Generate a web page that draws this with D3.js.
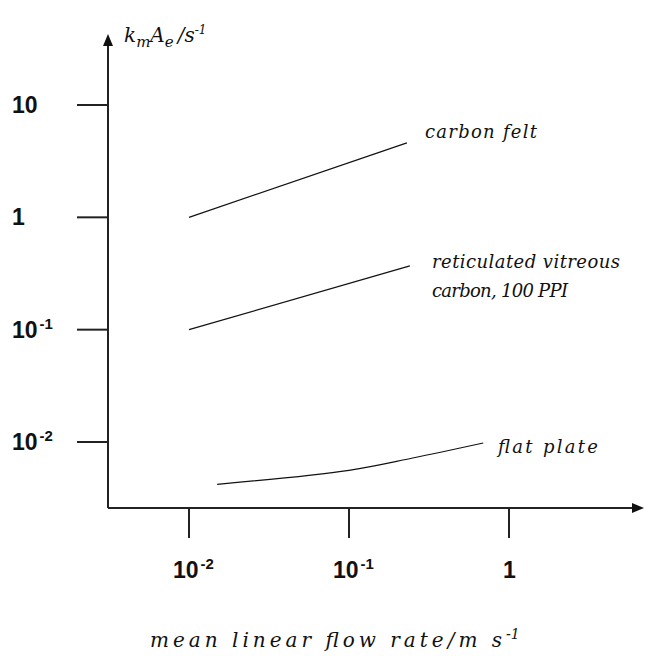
<!DOCTYPE html>
<html>
<head>
<meta charset="utf-8">
<script src="https://cdn.jsdelivr.net/npm/d3@7"></script>
<style>
  body { margin: 0; background: #fff; }
  svg { display: block; }
  .tick-label { font-family: "Liberation Sans", Arial, sans-serif; font-weight: bold; fill: #111; }
  .note { font-family: "DejaVu Serif", serif; font-style: italic; fill: #111; }
</style>
</head>
<body>
<svg id="chart" width="645" height="656"></svg>
<script>
// tick values and their labels (base + superscript)
var yTicks = [10, 1, 0.1, 0.01],
    yTickBase = ['10', '1', '10', '10'],
    yTickSup = ['', '', '-1', '-2'];
var xTicks = [0.01, 0.1, 1],
    xTickBase = ['10', '10', '1'],
    xTickSup = ['-2', '-1', ''];

// curves (flow rate in m/s, kmAe in 1/s)
var feltX = [0.01, 0.23],
    feltY = [1, 4.6];
var rvcX = [0.01, 0.24],
    rvcY = [0.1, 0.37];
var plateX = [0.015, 0.1, 0.25, 0.69],
    plateY = [0.0042, 0.0056, 0.0072, 0.0098];

var seriesNames = ['carbon felt', 'reticulated vitreous|carbon, 100 PPI', 'flat plate'];

var svg = d3.select('#chart'),
    originX = 108,
    originY = 508;

var x = d3.scaleLog().domain([0.01, 1]).range([189, 509]),
    y = d3.scaleLog().domain([0.01, 10]).range([442, 105]);

// axes with arrow heads
svg.append('line')
  .attr('x1', originX).attr('y1', originY)
  .attr('x2', originX).attr('y2', 44)
  .attr('stroke', '#222').attr('stroke-width', 2);
svg.append('path')
  .attr('d', 'M' + (originX - 5) + ',46L' + originX + ',34L' + (originX + 5) + ',46Z')
  .attr('fill', '#111');

svg.append('line')
  .attr('x1', originX).attr('y1', originY)
  .attr('x2', 634).attr('y2', originY)
  .attr('stroke', '#222').attr('stroke-width', 2);
svg.append('path')
  .attr('d', 'M632,' + (originY - 5) + 'L644,' + originY + 'L632,' + (originY + 5) + 'Z')
  .attr('fill', '#111');

// y ticks
yTicks.forEach(function(t, i) {
  svg.append('line')
    .attr('x1', 77).attr('x2', originX)
    .attr('y1', y(t)).attr('y2', y(t))
    .attr('stroke', '#222').attr('stroke-width', 2);
  var txt = svg.append('text')
    .attr('class', 'tick-label')
    .attr('x', 12)
    .attr('y', y(t) + 8)
    .style('font-size', '23px')
    .text(yTickBase[i]);
  if (yTickSup[i]) {
    txt.append('tspan')
      .attr('dx', 2).attr('dy', -9)
      .style('font-size', '15px')
      .text(yTickSup[i]);
  }
});

// x ticks
xTicks.forEach(function(t, i) {
  svg.append('line')
    .attr('x1', x(t)).attr('x2', x(t))
    .attr('y1', originY).attr('y2', 538)
    .attr('stroke', '#222').attr('stroke-width', 2);
  var txt = svg.append('text')
    .attr('class', 'tick-label')
    .attr('x', x(t) - (xTickSup[i] ? 16 : 6))
    .attr('y', 578)
    .style('font-size', '23px')
    .text(xTickBase[i]);
  if (xTickSup[i]) {
    txt.append('tspan')
      .attr('dx', 2).attr('dy', -9)
      .style('font-size', '15px')
      .text(xTickSup[i]);
  }
});

// the three curves
var line = d3.line()
  .x(function(d) { return x(d[0]); })
  .y(function(d) { return y(d[1]); })
  .curve(d3.curveCatmullRom);

[[feltX, feltY], [rvcX, rvcY], [plateX, plateY]].forEach(function(s) {
  svg.append('path')
    .datum(d3.zip(s[0], s[1]))
    .attr('d', line)
    .attr('fill', 'none')
    .attr('stroke', '#111')
    .attr('stroke-width', 1.2);
});

// curve labels, placed just right of each line's end
var labelPos = [
  {x: 425, y: 138, w: [112]},
  {x: 432, y: 268, w: [188, 136]},
  {x: 498, y: 453, w: [100]}
];
seriesNames.forEach(function(name, i) {
  name.split('|').forEach(function(part, j) {
    svg.append('text')
      .attr('class', 'note')
      .attr('x', labelPos[i].x)
      .attr('y', labelPos[i].y + j * 29)
      .attr('textLength', labelPos[i].w[j])
      .attr('lengthAdjust', 'spacing')
      .style('font-size', '18px')
      .text(part);
  });
});

// y title: k_m A_e / s^-1
var yt = svg.append('text')
  .attr('class', 'note')
  .attr('x', 124)
  .attr('y', 42)
  .style('font-size', '20px');
yt.append('tspan').text('k');
yt.append('tspan').attr('dy', 5).style('font-size', '15px').text('m');
yt.append('tspan').attr('dy', -5).text('A');
yt.append('tspan').attr('dy', 5).style('font-size', '15px').text('e');
yt.append('tspan').attr('dy', -5).attr('dx', 4).text('/s');
yt.append('tspan').attr('dy', -8).style('font-size', '12px').text('-1');

// x title
var xt = svg.append('text')
  .attr('class', 'note')
  .attr('x', 150)
  .attr('y', 647)
  .style('font-size', '20px');
xt.append('tspan')
  .attr('textLength', 352)
  .attr('lengthAdjust', 'spacing')
  .text('mean linear flow rate/m s');
xt.append('tspan').attr('dy', -8).style('font-size', '14px').text('-1');
</script>
</body>
</html>
